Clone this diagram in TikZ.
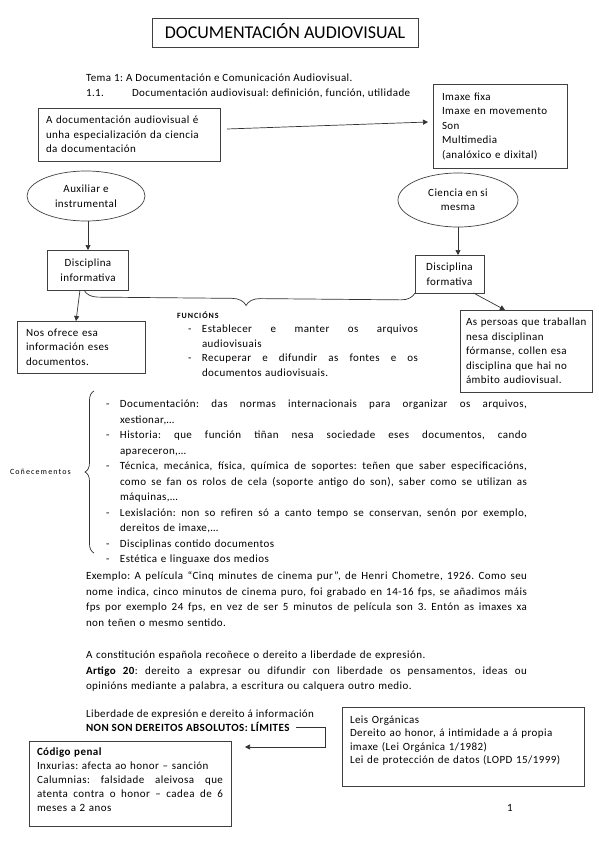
\documentclass[tikz,border=0pt]{standalone}
\usepackage{fontspec}
\usepackage{graphicx}
\setmainfont[LetterSpace=4]{Carlito}
\newfontfamily\titlefont{Carlito}
\usetikzlibrary{arrows.meta,shapes.geometric,decorations.pathreplacing,calc}
\newsavebox\jlbox
\newcommand\jlsp{\spaceskip=1.2pt plus 1fil\xspaceskip=1.2pt plus 1fil\relax}
\newcommand\jl[2]{\leavevmode\sbox\jlbox{\jlsp #2}%
  \ifdim\wd\jlbox>#1\relax\resizebox{#1}{\height}{\usebox\jlbox}\else\hbox to #1{\jlsp #2}\fi}
\newcommand\dashitem[1]{\makebox[14pt][l]{-}#1}
\newcommand\contl[1]{\hspace*{14pt}#1}
\begin{document}
\frenchspacing
\begin{tikzpicture}[x=1pt,y=-1pt,
  body/.style={inner sep=0pt, outer sep=0pt, anchor=base west, font=\fontsize{11}{15.5}\selectfont},
  para/.style={body},
  box/.style={draw=black!75, line width=0.7pt, inner sep=0pt, outer sep=0pt, font=\fontsize{11}{14.5}\selectfont},
  tbox/.style={box, inner xsep=8pt},
  ell/.style={draw=black!75, line width=0.7pt, ellipse, inner sep=0pt, outer sep=0pt, align=center, font=\fontsize{11}{14.5}\selectfont},
  arr/.style={draw=black!80, line width=0.7pt, -{Triangle[length=5pt,width=5pt]}},
  lin/.style={draw=black!80, line width=0.7pt}
]
\useasboundingbox (0,0) rectangle (599,848);
\fill[white] (0,0) rectangle (599,848);

% title
\node[box, minimum width=266pt, minimum height=29pt, font=\titlefont\fontsize{18}{20}\selectfont, text height=11.6pt, text depth=0pt] (title) at (285,32.5) {DOCUMENTACIÓN AUDIOVISUAL};

\node[body] (tema) at (86,81.5) {Tema 1: A Documentación e Comunicación Audiovisual.};
\node[body] (num) at (86,96.5) {1.1.};
\node[body] (def) at (132,96.5) {Documentación audiovisual: definición, función, utilidade};

% boxes top
\node[tbox, minimum width=182pt, minimum height=53pt, text width=166pt] (A) at (129,134.5)
  {A documentación audiovisual é\\unha especialización da ciencia\\da documentación};
\node[tbox, inner xsep=9pt, minimum width=134pt, minimum height=84pt, text width=116pt] (I) at (500,126)
  {Imaxe fixa\\Imaxe en movemento\\Son\\Multimedia\\(analóxico e dixital)};
\draw[arr] ([shift={(7,-5.5)}]A.east) -- ([shift={(-5,-4)}]I.west);

% ellipses
\node[ell, minimum width=118pt, minimum height=50pt] (Aux) at (86,196) {Auxiliar e\\instrumental};
\node[ell, minimum width=120pt, minimum height=54pt] (C) at (458,200) {Ciencia en si\\mesma};

% disciplines
\node[box, align=center, minimum width=81pt, minimum height=40pt, font=\fontsize{11}{15}\selectfont] (DI) at (88,270) {Disciplina\\informativa};
\node[box, align=center, minimum width=69pt, minimum height=38pt, font=\fontsize{11}{15}\selectfont] (DF) at (449.5,274) {Disciplina\\formativa};
\draw[arr] ([xshift=2]Aux.south) -- ([xshift=2]Aux.south |- DI.north);
\draw[arr] (C.south) -- (C.south |- DF.north);

\node[tbox, inner xsep=9pt, minimum width=128pt, minimum height=52pt, text width=110pt] (Nos) at (81,347)
  {Nos ofrece esa\\información eses\\documentos.};
\node[tbox, inner xsep=6pt, minimum width=132pt, minimum height=82pt, text width=120pt] (AP) at (526,351)
  {As persoas que traballan\\nesa disciplinan\\fórmanse, collen esa\\disciplina que hai no\\ámbito audiovisual.};
\draw[arr] ([xshift=-8]DI.south) -- ([xshift=-5]Nos.north);
\draw[arr] ([xshift=24]DF.south) -- ([xshift=-21]AP.north);

\draw[lin, decorate, decoration={brace, mirror, amplitude=14pt, aspect=0.49}] ([xshift=-4]DI.south) -- (DF.south west);

% funcions
\node[body, font=\bfseries\fontsize{8}{9}\selectfont\addfontfeature{LetterSpace=12}] (fun) at (177,318) {FUNCIÓNS};
\node[para, text width=230pt, font=\fontsize{11}{14.5}\selectfont] (funl) at (188,332.5)
  {\dashitem{\jl{216pt}{Establecer e manter os arquivos}}\\
   \contl{audiovisuais}\\
   \dashitem{\jl{216pt}{Recuperar e difundir as fontes e os}}\\
   \contl{documentos audiovisuais.}};

% conecementos
\node[body, font=\fontsize{8}{9}\selectfont\addfontfeature{LetterSpace=14}] (con) at (10,474) {Coñecementos};
\draw[lin, decorate, decoration={brace, amplitude=9pt, aspect=0.5}] (94,553) -- (94,391);
\node[para, text width=421pt] (conl) at (106,407.5)
  {\dashitem{\jl{407pt}{Documentación: das normas internacionais para organizar os arquivos,}}\\
   \contl{xestionar,…}\\
   \dashitem{\jl{407pt}{Historia: que función tiñan nesa sociedade eses documentos, cando}}\\
   \contl{apareceron,…}\\
   \dashitem{\jl{407pt}{Técnica, mecánica, física, química de soportes: teñen que saber especificacións,}}\\
   \contl{\jl{407pt}{como se fan os rolos de cela (soporte antigo do son), saber como se utilizan as}}\\
   \contl{máquinas,…}\\
   \dashitem{\jl{407pt}{Lexislación: non so refiren só a canto tempo se conservan, senón por exemplo,}}\\
   \contl{dereitos de imaxe,…}\\
   \dashitem{Disciplinas contido documentos}\\
   \dashitem{Estética e linguaxe dos medios}};

% exemplo
\node[para, text width=441pt] (ex) at (86,579.5)
  {\jl{441pt}{Exemplo: A película “Cinq minutes de cinema pur”, de Henri Chometre, 1926. Como seu}\\
   \jl{441pt}{nome indica, cinco minutos de cinema puro, foi grabado en 14-16 fps, se añadimos máis}\\
   \jl{441pt}{fps por exemplo 24 fps, en vez de ser 5 minutos de película son 3. Entón as imaxes xa}\\
   non teñen o mesmo sentido.};

\node[para, text width=441pt] (const) at (86,658.5)
  {A constitución española recoñece o dereito a liberdade de expresión.\\
   \jl{441pt}{\textbf{Artigo 20}: dereito a expresar ou difundir con liberdade os pensamentos, ideas ou}\\
   opinións mediante a palabra, a escritura ou calquera outro medio.};

\node[body] (lib) at (86,717.5) {Liberdade de expresión e dereito á información};
\node[body, font=\bfseries\fontsize{11}{15.5}\selectfont] (NS) at (86,731.5) {NON SON DEREITOS ABSOLUTOS: LÍMITES};
\coordinate (elb) at (325,727);
\coordinate (cpEnd) at (245,747);
\draw[arr] ([xshift=7]NS.east) -- (elb |- NS.east) |- (cpEnd);

\node[tbox, minimum width=202pt, minimum height=85pt, text width=186pt, font=\fontsize{11}{14}\selectfont] (CP) at (130,783.5)
  {\textbf{Código penal}\\
   Inxurias: afecta ao honor – sanción\\
   \jl{186pt}{Calumnias: falsidade aleivosa que}\\
   \jl{186pt}{atenta contra o honor – cadea de 6}\\
   meses a 2 anos\\[-6pt]\mbox{}};

\node[tbox, minimum width=242pt, minimum height=79pt, text width=226pt, font=\fontsize{11}{13.5}\selectfont] (LO) at (463,746.5)
  {Leis Orgánicas\\
   Dereito ao honor, á intimidade a á propia\\
   imaxe (Lei Orgánica 1/1982)\\
   Lei de protección de datos (LOPD 15/1999)\\ \mbox{}};

\node[body, anchor=base, font=\fontsize{11}{13}\selectfont] (pg) at (510,811) {1};
\end{tikzpicture}
\end{document}
